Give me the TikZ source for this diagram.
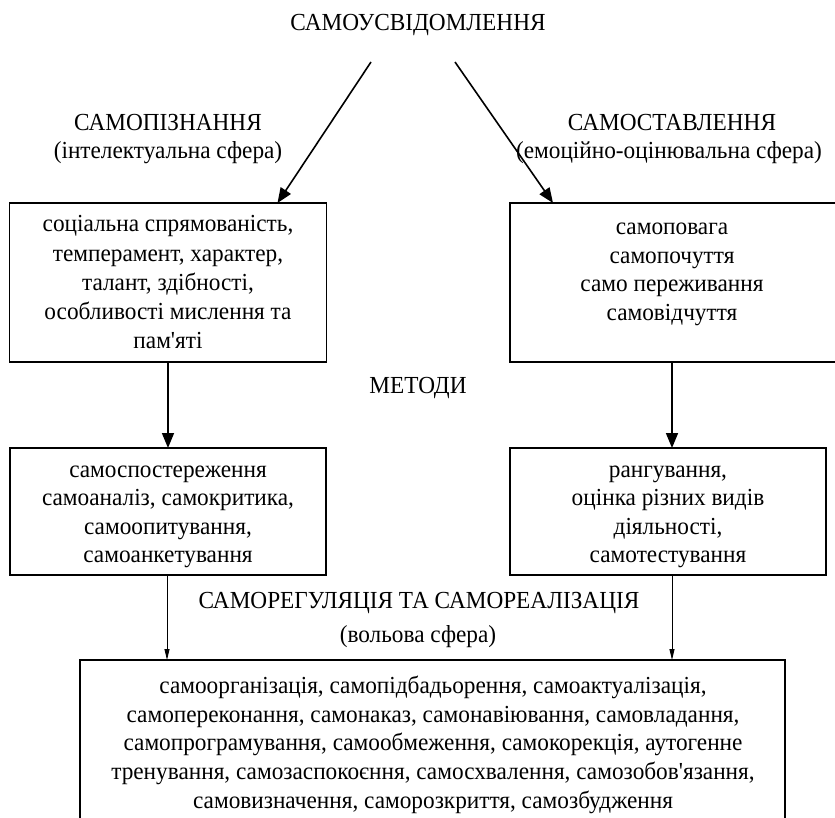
\documentclass[tikz,border=0pt]{standalone}
\usepackage{fontspec}
\setmainfont{Liberation Serif}[FakeStretch=0.95, Ligatures=TeXOff]
\usetikzlibrary{arrows.meta}
\begin{document}
\begin{tikzpicture}[x=1pt,y=-1pt,
  every node/.style={font=\fontsize{24.5}{28.6}\selectfont, inner sep=0pt, outer sep=0pt},
  txt/.style={align=center, execute at begin node=\strut, execute at end node=\strut},
  lbl/.style={anchor=base},
  box/.style={draw, line width=1.6pt, rectangle, inner sep=0pt},
  bigarrow/.style={-{Triangle[length=15pt,width=12pt]}, line width=1.6pt},
  smallarrow/.style={-{Triangle[length=11pt,width=5pt]}, line width=0.9pt}]
\useasboundingbox (0,0) rectangle (835,818);

% boxes
\node[box, minimum width=317pt, minimum height=159pt] (b1L) at (168,282.5) {};
\node[box, minimum width=328pt, minimum height=159pt] (b1R) at (674,282.5) {};
\node[box, minimum width=316pt, minimum height=127pt] (b2L) at (168,511.5) {};
\node[box, minimum width=316pt, minimum height=127pt] (b2R) at (668,511.5) {};
\node[box, minimum width=705pt, minimum height=190pt] (b3) at (432.5,755) {};

% texts
\node[lbl] (title) at (418,31) {САМОУСВІДОМЛЕННЯ};
\node[lbl] (kn) at (168,131) {САМОПІЗНАННЯ};
\node[lbl] (kns) at (168,159) {(інтелектуальна сфера)};
\node[lbl] (st) at (672,131) {САМОСТАВЛЕННЯ};
\node[lbl] (sts) at (669,159) {(емоційно-оцінювальна сфера)};
\node[lbl] (met) at (418,393) {МЕТОДИ};
\node[lbl] (reg) at (419,608) {САМОРЕГУЛЯЦІЯ ТА САМОРЕАЛІЗАЦІЯ};
\node[lbl] (regs) at (418,642) {(вольова сфера)};

\node[txt, font=\fontsize{24.5}{29.2}\selectfont] (t1L) at (168,286.5) {соціальна спрямованість,\\темперамент, характер,\\талант, здібності,\\особливості мислення та\\пам'яті};
\node[txt] (t1R) at (672,276) {самоповага\\самопочуття\\само переживання\\самовідчуття};
\node[txt] (t2L) at (168,518.5) {самоспостереження\\самоаналіз, самокритика,\\самоопитування,\\самоанкетування};
\node[txt] (t2R) at (668,518.5) {рангування,\\оцінка різних видів\\діяльності,\\самотестування};
\node[txt] (t3) at (433,746.5) {самоорганізація, самопідбадьорення, самоактуалізація,\\самопереконання, самонаказ, самонавіювання, самовладання,\\самопрограмування, самообмеження, самокорекція, аутогенне\\тренування, самозаспокоєння, самосхвалення, самозобов'язання,\\самовизначення, саморозкриття, самозбудження};

% connectors
\coordinate (s1) at (371,62);
\coordinate (s2) at (455,62);
\draw[bigarrow] (s1) -- ([xshift=268pt]b1L.north west);
\draw[bigarrow] (s2) -- ([xshift=43pt]b1R.north west);
\draw[bigarrow] (b1L.south) -- (b2L.north -| b1L.south);
\draw[bigarrow] ([xshift=4pt]b2R.north |- b1R.south) -- ([xshift=4pt]b2R.north);
\draw[smallarrow] ([xshift=-1pt]b2L.south) -- ([xshift=-1pt]b2L.south |- b3.north);
\draw[smallarrow] ([xshift=4pt]b2R.south) -- ([xshift=4pt]b2R.south |- b3.north);
\end{tikzpicture}
\end{document}
